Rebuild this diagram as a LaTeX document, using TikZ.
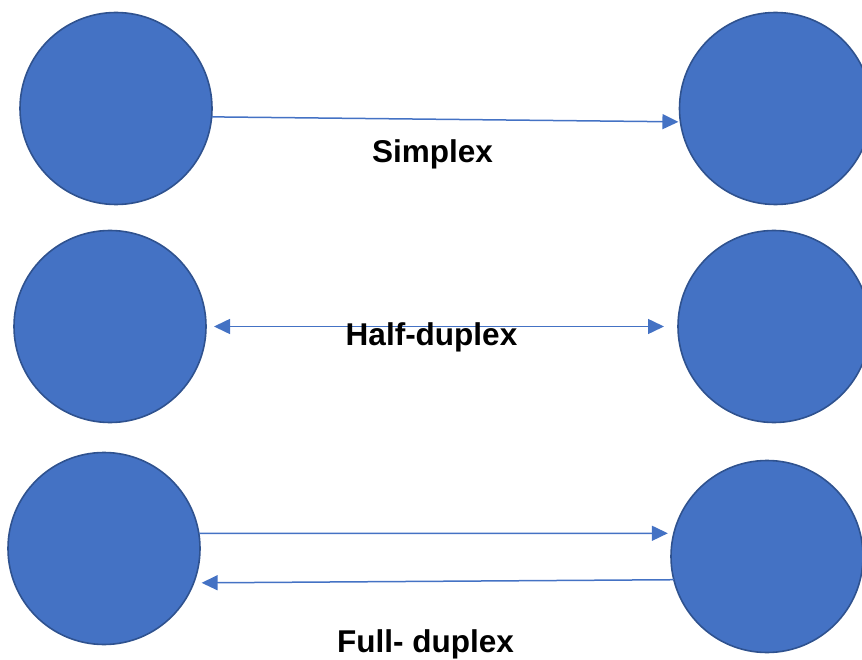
\documentclass[tikz,border=0pt]{standalone}
\usepackage{fontspec}
\setmainfont{Liberation Sans}
\usetikzlibrary{arrows.meta}
\definecolor{nodefill}{HTML}{4472C4}
\definecolor{nodeline}{HTML}{2F528F}
\definecolor{linkcol}{HTML}{4472C4}
\tikzset{
  station/.style={circle, fill=nodefill, draw=nodeline, line width=1.6pt, minimum size=192pt, inner sep=0pt, outer sep=0pt},
  link/.style={draw=linkcol, line width=1.5pt},
  tip/.style={-{Triangle[length=16pt,width=15pt]}},
  label/.style={anchor=base, font=\bfseries\fontsize{31.5}{36}\selectfont, inner sep=0pt}
}
\begin{document}
\begin{tikzpicture}[x=1pt,y=-1pt]
\useasboundingbox (0,0) rectangle (862,660);
\node[station] (c1) at (116,108.5) {};
\node[station] (c2) at (775.5,108.5) {};
\node[station] (c3) at (110,326.5) {};
\node[station] (c4) at (774,326.5) {};
\node[station] (c5) at (104,548.5) {};
\node[station] (c6) at (767,556.5) {};
% Simplex
\draw[link, tip, shorten >=2pt] (c1.-5.3) -- (c2.188.6);
\node[label] (t1) at (432.5,163) {Simplex};
% Half-duplex
\draw[link, {Triangle[length=16pt,width=15pt]}-{Triangle[length=16pt,width=15pt]}, shorten <=8pt, shorten >=14pt] (c3.east) -- (c4.west);
\node[label] (t2) at (431.5,345) {Half-duplex};
% Full-duplex
\draw[link, tip, shorten >=6pt] (c5.9.2) -- (c6.166);
\draw[link, tip, shorten >=8pt] (c6.194.6) -- (c5.-21.5);
\node[label] (t3) at (425.5,652) {Full- duplex};
\end{tikzpicture}
\end{document}
